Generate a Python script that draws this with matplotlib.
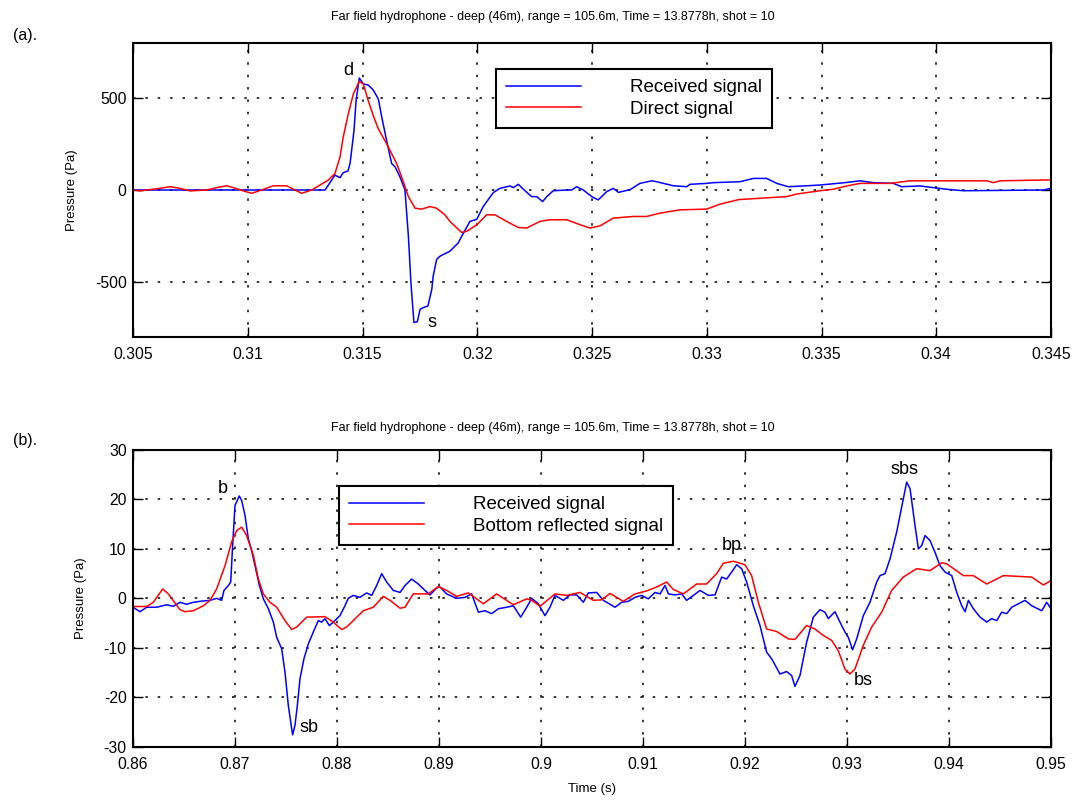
import numpy as np
import matplotlib
matplotlib.use('Agg')
import matplotlib.pyplot as plt

plt.rcParams['font.family'] = ['Liberation Sans', 'DejaVu Sans']
plt.rcParams['axes.unicode_minus'] = False

# ---------------- data: panel (a) ----------------
top_recv_t = [0.305, 0.31337, 0.31380, 0.31402, 0.31416, 0.31437, 0.31446, 0.31463, 0.31472, 0.31486,
              0.31504, 0.31525, 0.31547, 0.31569, 0.31584, 0.31605, 0.31627, 0.31642, 0.31663, 0.31685,
              0.31700, 0.31711, 0.31724, 0.31739, 0.31751, 0.31765, 0.31785, 0.31802, 0.31808, 0.31823,
              0.31838, 0.31881, 0.31917, 0.31932, 0.31968, 0.31998, 0.32026, 0.32070, 0.32099, 0.32143,
              0.32157, 0.32179, 0.32201, 0.32237, 0.32259, 0.32285, 0.32303, 0.32331, 0.32390, 0.32412,
              0.32433, 0.32462, 0.32499, 0.32527, 0.32564, 0.32593, 0.32615, 0.32666, 0.32709, 0.32760,
              0.32782, 0.32854, 0.32913, 0.32927, 0.33000, 0.33029, 0.33145, 0.33203, 0.33261, 0.33305,
              0.33355, 0.33421, 0.33493, 0.33602, 0.33668, 0.33726, 0.33813, 0.33849, 0.33929, 0.34046,
              0.34118, 0.34467, 0.345]
top_recv_p = [0, 0, 81, 67, 94, 104, 146, 324, 486, 609,
              577, 571, 544, 495, 396, 270, 144, 126, 72, 0,
              -252, -504, -721, -717, -649, -640, -631, -540, -468, -378,
              -360, -333, -288, -252, -171, -159, -90, -14, 9, 22,
              13, 31, 4, -36, -36, -63, -36, -4, 0, 0,
              18, 0, -36, -54, -9, 9, -13, 2, 36, 50,
              45, 23, 18, 31, 36, 40, 45, 63, 63, 36,
              18, 22, 27, 40, 50, 40, 36, 18, 22, 4,
              -4, 0, 9]

top_direct_t = [0.305, 0.30530, 0.30618, 0.30661, 0.30705, 0.30748, 0.30821, 0.30865, 0.30908, 0.30937,
                0.30981, 0.31017, 0.31061, 0.31111, 0.31170, 0.31206, 0.31235, 0.31279, 0.31315, 0.31351,
                0.31380, 0.31402, 0.31416, 0.31438, 0.31460, 0.31486, 0.31504, 0.31525, 0.31547, 0.31569,
                0.31605, 0.31649, 0.31678, 0.31700, 0.31729, 0.31758, 0.31794, 0.31823, 0.31859, 0.31881,
                0.31932, 0.31954, 0.31998, 0.32041, 0.32077, 0.32128, 0.32179, 0.32215, 0.32273, 0.32317,
                0.32390, 0.32448, 0.32491, 0.32535, 0.32593, 0.32680, 0.32738, 0.32796, 0.32883, 0.33000,
                0.33058, 0.33140, 0.33232, 0.33348, 0.33392, 0.33493, 0.33551, 0.33610, 0.33668, 0.33799,
                0.33886, 0.34220, 0.34249, 0.34278, 0.345]
top_direct_p = [0, -5, 9, 18, 9, -5, 0, 13, 23, 13,
                -5, -18, 0, 23, 23, 0, -18, 0, 27, 54,
                90, 180, 288, 414, 522, 591, 577, 486, 405, 333,
                252, 144, 45, -36, -99, -104, -90, -99, -135, -171,
                -231, -225, -189, -135, -135, -171, -204, -207, -171, -162,
                -162, -189, -207, -195, -153, -144, -144, -126, -108, -104,
                -77, -52, -45, -36, -22, -4, 4, 22, 36, 36,
                50, 50, 40, 50, 55]

top_xticks = [0.305, 0.31, 0.315, 0.32, 0.325, 0.33, 0.335, 0.34, 0.345]
top_yticks = [-500, 0, 500]
top_notes = ['d', 's']
top_notes_t = [0.31437, 0.31801]
top_notes_p = [649, -721]
top_labels = ['Received signal', 'Direct signal']

# ---------------- data: panel (b) ----------------
bot_recv_t = [0.86000, 0.86069, 0.86134, 0.86232, 0.86330, 0.86395, 0.86461, 0.86526, 0.86592, 0.86657,
              0.86755, 0.86820, 0.86869, 0.86892, 0.86935, 0.86958, 0.86977, 0.87000, 0.87042, 0.87065,
              0.87098, 0.87131, 0.87163, 0.87196, 0.87239, 0.87278, 0.87327, 0.87376, 0.87409, 0.87458,
              0.87490, 0.87523, 0.87565, 0.87588, 0.87611, 0.87637, 0.87676, 0.87719, 0.87768, 0.87817,
              0.87850, 0.87882, 0.87925, 0.87964, 0.88029, 0.88078, 0.88111, 0.88160, 0.88225, 0.88291,
              0.88340, 0.88389, 0.88438, 0.88487, 0.88552, 0.88618, 0.88667, 0.88732, 0.88797, 0.88863,
              0.88912, 0.88977, 0.89010, 0.89075, 0.89173, 0.89255, 0.89320, 0.89386, 0.89451, 0.89516,
              0.89582, 0.89663, 0.89729, 0.89801, 0.89860, 0.89909, 0.89974, 0.90039, 0.90088, 0.90137,
              0.90219, 0.90284, 0.90350, 0.90415, 0.90464, 0.90546, 0.90611, 0.90726, 0.90791, 0.90856,
              0.90922, 0.90987, 0.91052, 0.91118, 0.91167, 0.91216, 0.91249, 0.91314, 0.91379, 0.91428,
              0.91494, 0.91559, 0.91641, 0.91706, 0.91771, 0.91820, 0.91869, 0.91918, 0.91967, 0.92016,
              0.92082, 0.92147, 0.92212, 0.92261, 0.92343, 0.92408, 0.92457, 0.92490, 0.92539, 0.92604,
              0.92670, 0.92735, 0.92784, 0.92817, 0.92882, 0.92931, 0.92980, 0.93013, 0.93055, 0.93095,
              0.93160, 0.93225, 0.93291, 0.93324, 0.93373, 0.93422, 0.93487, 0.93546, 0.93585, 0.93618,
              0.93667, 0.93700, 0.93733, 0.93765, 0.93814, 0.93863, 0.93912, 0.93962, 0.94027, 0.94076,
              0.94125, 0.94158, 0.94190, 0.94239, 0.94305, 0.94370, 0.94419, 0.94468, 0.94517, 0.94566,
              0.94615, 0.94681, 0.94746, 0.94811, 0.94909, 0.94958, 0.95000]
bot_recv_p = [-1.8, -2.7, -1.8, -1.8, -1.3, -1.6, -0.8, -1.2, -0.8, -0.6,
              -0.4, 0.0, -0.4, 1.6, 2.6, 3.3, 10.7, 18.8, 20.7, 19.8,
              16.8, 12.0, 9.7, 6.6, 2.6, -0.1, -2.1, -4.8, -7.9, -10.2,
              -14.9, -21.7, -27.6, -25.7, -21.7, -16.3, -12.2, -9.2, -6.8, -4.5,
              -4.8, -4.1, -5.5, -4.8, -3.5, -1.5, 0.0, 0.6, 0.2, 1.1,
              0.6, 2.6, 5.0, 3.3, 1.6, 1.2, 2.6, 3.9, 2.9, 1.6,
              0.7, 2.1, 2.3, 0.9, 0.0, 0.2, 0.9, -2.8, -2.5, -3.1,
              -2.1, -1.8, -1.5, -3.8, -1.8, 0.0, -1.1, -3.5, -1.8, 0.6,
              -0.4, 0.7, 0.7, -0.8, 1.1, 1.2, -0.4, -1.8, -0.8, -0.6,
              0.2, 0.6, -0.1, 1.2, 0.9, 2.6, 0.9, 0.7, 0.9, -0.4,
              0.6, 1.6, 0.6, 0.7, 4.3, 3.9, 5.3, 6.8, 6.0, 3.3,
              -1.5, -5.5, -10.9, -12.2, -15.3, -14.8, -15.6, -17.8, -15.6, -8.9,
              -3.8, -2.3, -2.8, -4.1, -2.7, -4.8, -6.8, -7.9, -10.4, -8.2,
              -3.5, -0.8, 3.3, 4.6, 5.0, 8.0, 13.4, 19.5, 23.5, 22.2,
              14.7, 10.0, 10.7, 12.7, 11.7, 9.3, 6.6, 5.3, 4.6, 1.2,
              -1.5, -2.7, -0.4, -2.1, -3.8, -4.8, -4.1, -4.5, -2.8, -3.1,
              -1.8, -1.1, -0.4, -1.5, -2.5, -0.8, -2.1]

bot_refl_t = [0.86000, 0.86134, 0.86199, 0.86291, 0.86346, 0.86461, 0.86510, 0.86592, 0.86690, 0.86755,
              0.86820, 0.86902, 0.86967, 0.87016, 0.87065, 0.87114, 0.87180, 0.87229, 0.87278, 0.87343,
              0.87409, 0.87490, 0.87556, 0.87605, 0.87703, 0.87882, 0.87964, 0.88046, 0.88095, 0.88160,
              0.88258, 0.88356, 0.88454, 0.88520, 0.88618, 0.88667, 0.88748, 0.88896, 0.88993, 0.89075,
              0.89173, 0.89288, 0.89435, 0.89565, 0.89729, 0.89860, 0.89909, 0.89991, 0.90137, 0.90252,
              0.90382, 0.90513, 0.90595, 0.90677, 0.90807, 0.90922, 0.91036, 0.91134, 0.91232, 0.91297,
              0.91396, 0.91526, 0.91624, 0.91722, 0.91788, 0.91886, 0.92000, 0.92065, 0.92131, 0.92212,
              0.92310, 0.92425, 0.92490, 0.92604, 0.92686, 0.92768, 0.92850, 0.92915, 0.92980, 0.93029,
              0.93078, 0.93160, 0.93242, 0.93340, 0.93438, 0.93552, 0.93683, 0.93814, 0.93928, 0.93977,
              0.94141, 0.94239, 0.94370, 0.94533, 0.94811, 0.94926, 0.95000]
bot_refl_p = [-1.65, -1.65, -0.8, 1.9, 0.9, -2.3, -2.7, -2.5, -1.5, -0.4,
              1.9, 6.6, 11.4, 13.7, 14.4, 12.7, 8.7, 3.9, 0.9, -0.8,
              -1.8, -4.5, -6.3, -5.8, -3.8, -3.7, -4.8, -6.3, -5.8, -4.5,
              -2.5, -1.8, 0.4, -0.4, -2.0, -1.8, 0.9, 0.9, 2.4, 1.6,
              0.4, 1.1, -1.1, 0.9, -1.3, -0.1, -0.4, -1.6, 0.9, 0.6,
              1.2, -0.4, -0.3, 1.0, -0.6, 0.9, 1.5, 2.3, 3.3, 1.8,
              0.9, 2.9, 2.9, 5.0, 7.1, 7.5, 6.8, 4.6, -0.8, -6.2,
              -6.7, -8.2, -8.3, -5.5, -6.2, -7.5, -8.5, -10.6, -14.3, -15.3,
              -14.3, -9.5, -5.8, -2.8, 1.6, 4.3, 6.0, 5.6, 7.2, 7.0,
              4.6, 4.6, 2.9, 4.6, 4.3, 2.7, 3.6]

bot_xticks = [0.86, 0.87, 0.88, 0.89, 0.9, 0.91, 0.92, 0.93, 0.94, 0.95]
bot_yticks = [-30, -20, -10, 0, 10, 20, 30]
bot_notes = ['b', 'sb', 'bp', 'bs', 'sbs']
bot_notes_t = [0.86885, 0.87729, 0.91870, 0.93160, 0.93559]
bot_notes_p = [22.2, -26.1, 10.7, -16.6, 26.1]
bot_labels = ['Received signal', 'Bottom reflected signal']

title_text = 'Far field hydrophone - deep (46m), range = 105.6m, Time = 13.8778h, shot = 10'

# ---------------- figure ----------------
W, H = 1075, 800
fig = plt.figure(figsize=(W / 100, H / 100), dpi=100)
ax1 = fig.add_axes([133 / W, 1 - 337 / H, 918 / W, 294 / H])
ax2 = fig.add_axes([133 / W, 1 - 746.7 / H, 918 / W, 296.7 / H])


def style(ax, xt, yt, ylim):
    ax.set_xlim(xt[0], xt[-1])
    ax.set_ylim(*ylim)
    ax.set_xticks(xt)
    ax.set_xticklabels([f'{v:g}' for v in xt])
    ax.set_yticks(yt)
    ax.set_yticklabels([f'{v:g}' for v in yt])
    ax.tick_params(axis='x', direction='in', length=7, width=1, top=True,
                   labelsize=11.3, pad=7.5)
    ax.tick_params(axis='y', direction='in', length=7, width=1, right=True,
                   labelsize=11.3, pad=4.5)
    ax.grid(True, color='black', linestyle=(0, (1.6, 6.5)), linewidth=1.1)
    for s in ax.spines.values():
        s.set_linewidth(1.5)


style(ax1, top_xticks, top_yticks, (-800, 800))
style(ax2, bot_xticks, bot_yticks, (-30, 30))

l1, = ax1.plot(top_recv_t, top_recv_p, color=(0, 0, 1), lw=1.1)
l2, = ax1.plot(top_direct_t, top_direct_p, color=(1, 0, 0), lw=1.1)
for txt, t, p in zip(top_notes, top_notes_t, top_notes_p):
    ax1.text(t, p, txt, ha='center', va='center', fontsize=13)

b1, = ax2.plot(bot_recv_t, bot_recv_p, color=(0, 0, 1), lw=1.1)
b2, = ax2.plot(bot_refl_t, bot_refl_p, color=(1, 0, 0), lw=1.1)
for txt, t, p in zip(bot_notes, bot_notes_t, bot_notes_p):
    ax2.text(t, p, txt, ha='center', va='center', fontsize=13)

leg_kw = dict(loc='upper left', borderaxespad=0, fontsize=13.5, handlelength=4.0,
              handletextpad=2.6, borderpad=0.55, labelspacing=0.22, fancybox=False,
              edgecolor='black', framealpha=1)
lg1 = ax1.legend([l1, l2], top_labels, bbox_to_anchor=(0.3954, 0.9116), **leg_kw)
lg1.get_frame().set_linewidth(1.5)
lg2 = ax2.legend([b1, b2], bot_labels, bbox_to_anchor=(0.2244, 0.8787), **leg_kw)
lg2.get_frame().set_linewidth(1.5)

ax1.set_ylabel('Pressure (Pa)', fontsize=9.5)
ax1.yaxis.set_label_coords(-0.0599, 0.5)
ax2.set_ylabel('Pressure (Pa)', fontsize=9.5)
ax2.yaxis.set_label_coords(-0.0501, 0.5)
ax2.set_xlabel('Time (s)', fontsize=9.5)
ax2.xaxis.set_label_coords(0.5, -0.1223)

fig.text(553 / W, 1 - 17 / H, title_text, ha='center', va='center', fontsize=9)
fig.text(553 / W, 1 - 428 / H, title_text, ha='center', va='center', fontsize=9)
fig.text(13 / W, 1 - 35.5 / H, '(a).', ha='left', va='center', fontsize=11.5)
fig.text(13 / W, 1 - 441 / H, '(b).', ha='left', va='center', fontsize=11.5)

fig.savefig('out.png', dpi=100)
